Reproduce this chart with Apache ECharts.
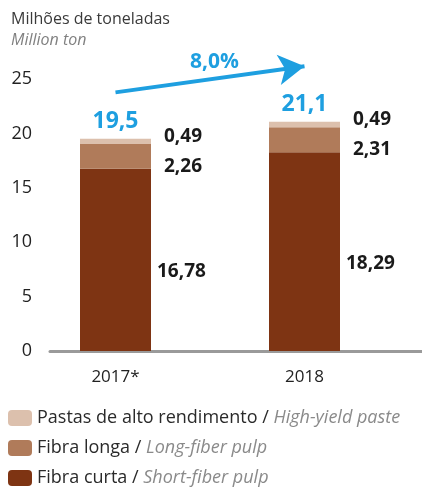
<!DOCTYPE html>
<html>
<head>
<meta charset="utf-8">
<script src="https://cdn.jsdelivr.net/npm/echarts@6/dist/echarts.min.js"></script>
<style>
html,body{margin:0;padding:0;background:#fff;}
#c{width:422px;height:490px;}
</style>
</head>
<body>
<div id="c"></div>
<script>
var categories = ['2017*', '2018'];
var highYield = [0.49, 0.49];
var longFiber = [2.26, 2.31];
var shortFiber = [16.78, 18.29];
var totals = ['19,5', '21,1'];
var growthLabel = '8,0%';
var growthArrow = [23.8, 26.2];
var yTicks = [0, 5, 10, 15, 20, 25];

var seriesNames = {
  high: ['Pastas de alto rendimento', 'High-yield paste'],
  long: ['Fibra longa', 'Long-fiber pulp'],
  short: ['Fibra curta', 'Short-fiber pulp']
};

var FONT = 'Open Sans';
var Y_MAX = 30;
var fmtNum = function (v) { return String(v).replace('.', ','); };

var chart = echarts.init(document.getElementById('c'), null, {renderer: 'canvas'});

var valLabel = function (dist, off) {
  return {
    show: true, position: 'right', distance: dist, offset: off,
    fontFamily: FONT, fontWeight: 'bold', fontSize: 19, color: '#1a1a1a',
    formatter: function (p) { return fmtNum(p.value); }
  };
};

var legendName = function (k) { return seriesNames[k][0] + ' / ' + seriesNames[k][1]; };

var option = {
  animation: false,
  textStyle: {fontFamily: FONT},
  title: {
    text: 'Milhões de toneladas',
    subtext: 'Million ton',
    left: 6, top: 6, itemGap: 5,
    textStyle: {fontFamily: FONT, fontSize: 16, fontWeight: 'normal', color: '#3a3a3a'},
    subtextStyle: {fontFamily: FONT, fontSize: 16, fontStyle: 'italic', color: '#808080'}
  },
  graphic: [{
    type: 'text', left: 190, top: 52,
    style: {text: growthLabel, fontFamily: FONT, fontSize: 21, fontWeight: 'bold', fill: '#1e9fe0'}
  }],
  legend: {
    orient: 'vertical', left: 8, top: 409, width: 414, height: 100, itemGap: 12,
    itemWidth: 24, itemHeight: 16, padding: 0,
    data: [legendName('high'), legendName('long'), legendName('short')],
    formatter: function (name) {
      var parts = name.split(' / ');
      return '{a|' + parts[0] + ' / }{b|' + parts[1] + '}';
    },
    textStyle: {
      rich: {
        a: {fontFamily: FONT, fontSize: 18, color: '#2a2a2a', lineHeight: 20},
        b: {fontFamily: FONT, fontSize: 18, fontStyle: 'italic', color: '#8a8a8a', lineHeight: 20}
      }
    }
  },
  grid: [
    {left: 21, right: 23, top: 25, bottom: 139},
    {left: 50, right: 0, top: 25, bottom: 139}
  ],
  xAxis: [
    {
      type: 'category', gridIndex: 0, data: categories,
      axisLine: {show: false}, axisTick: {show: false},
      axisLabel: {fontFamily: FONT, fontSize: 17, color: '#222', margin: 18}
    },
    {
      type: 'category', gridIndex: 1, data: [''], offset: 2,
      axisLine: {show: true, lineStyle: {color: '#9a9a9a', width: 3}},
      axisTick: {show: false}, axisLabel: {show: false}
    }
  ],
  yAxis: [
    {
      type: 'value', gridIndex: 0, min: 0, max: Y_MAX, interval: 5,
      show: false
    },
    {
      type: 'value', gridIndex: 1, min: yTicks[0], max: Y_MAX, interval: 5,
      axisLine: {show: false}, axisTick: {show: false}, splitLine: {show: false},
      axisLabel: {
        fontFamily: FONT, fontSize: 18, color: '#222', margin: 18,
        formatter: function (v) { return yTicks.indexOf(v) >= 0 ? String(v) : ''; }
      }
    }
  ],
  series: [
    {
      name: legendName('short'), type: 'bar', stack: 'a', data: shortFiber, barWidth: 71,
      itemStyle: {color: '#7e3413'},
      label: valLabel(6, [0, 12])
    },
    {
      name: legendName('long'), type: 'bar', stack: 'a', data: longFiber,
      itemStyle: {color: '#b07b5a'},
      label: valLabel(13, [0, 10])
    },
    {
      name: legendName('high'), type: 'bar', stack: 'a', data: highYield,
      itemStyle: {color: '#dcc0ad'},
      label: valLabel(13, [0, -5])
    },
    {
      name: 'total', type: 'bar', stack: 'a', data: [0, 0],
      itemStyle: {color: 'transparent'},
      label: {
        show: true, position: 'top', distance: 6,
        fontFamily: FONT, fontWeight: 'bold', fontSize: 23, color: '#1e9fe0',
        formatter: function (p) { return totals[p.dataIndex]; }
      },
      markLine: {
        silent: true, symbol: ['none', 'arrow'], symbolSize: [23, 26],
        lineStyle: {color: '#1e9fe0', width: 4, type: 'solid'},
        label: {show: false},
        data: [[{coord: [categories[0], growthArrow[0]]}, {coord: [categories[1], growthArrow[1]]}]]
      }
    }
  ]
};
chart.setOption(option);
</script>
</body>
</html>
